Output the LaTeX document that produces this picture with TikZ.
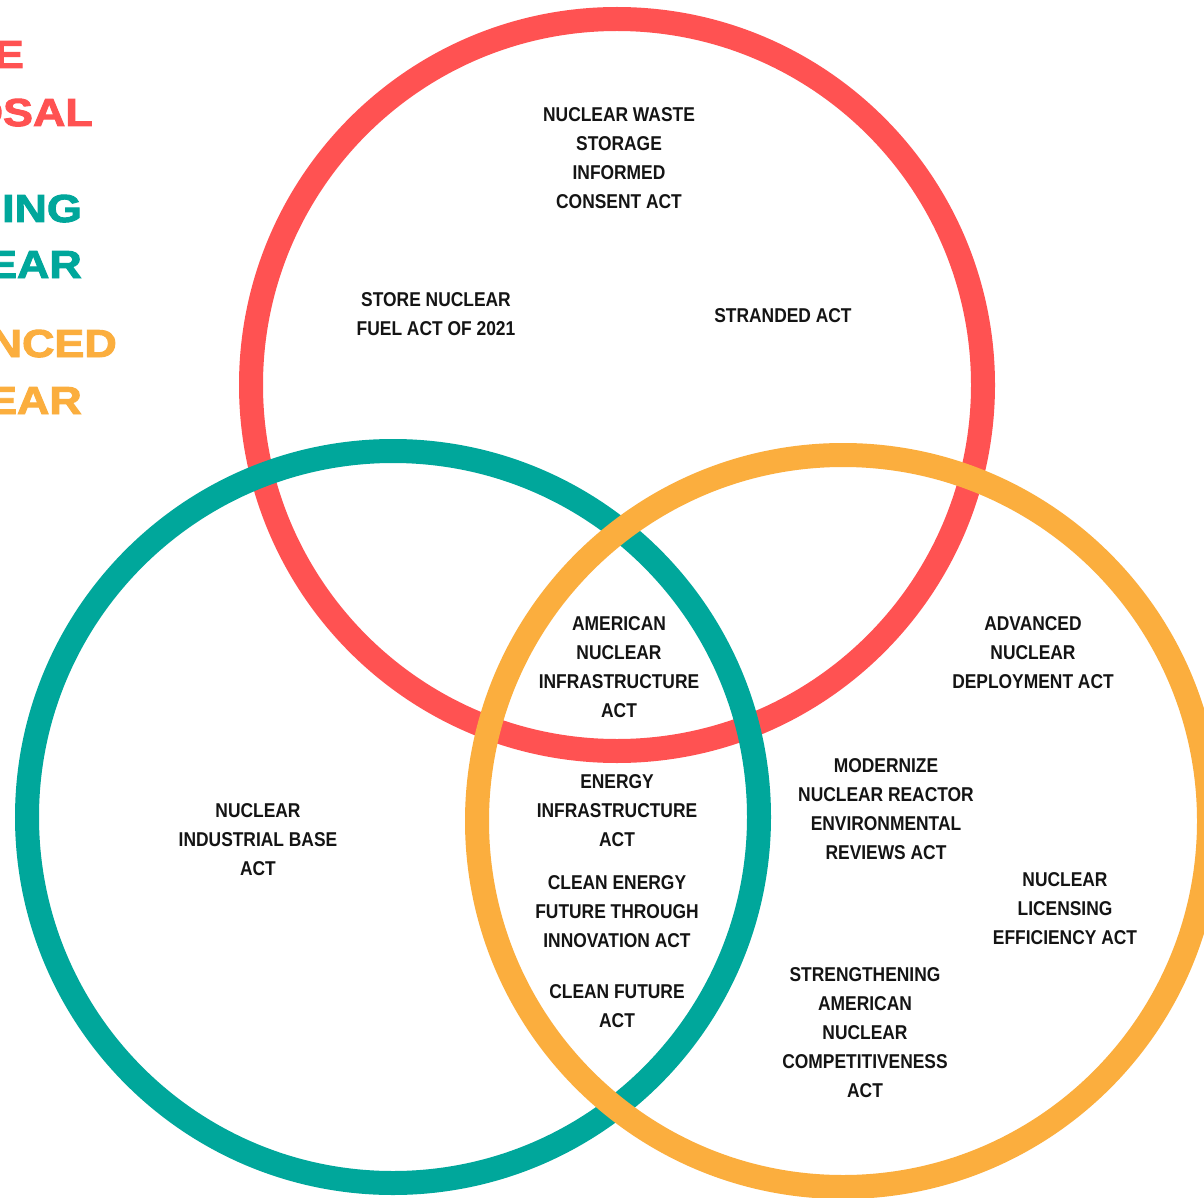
\documentclass[tikz,border=0pt]{standalone}
\usepackage{fontspec}
\setmainfont{Liberation Sans}
\newfontfamily\lab[FakeStretch=0.87]{Liberation Sans}
\newfontfamily\head[FakeBold=2.5,FakeStretch=1.15]{Liberation Sans}
\definecolor{cred}{HTML}{FF5252}
\definecolor{cteal}{HTML}{00A79B}
\definecolor{corange}{HTML}{FBAE3E}
\definecolor{ctext}{HTML}{141414}
\tikzset{
  ring/.style={line width=24pt},
  lbl/.style={align=center, inner sep=0pt, text=ctext, font=\lab\bfseries\fontsize{20}{29}\selectfont},
  hdr/.style={anchor=base east, inner sep=0pt, font=\head\bfseries\fontsize{39}{39}\selectfont}
}
\begin{document}
\begin{tikzpicture}[x=1pt,y=-1pt]
\useasboundingbox (0,0) rectangle (1204,1198);
\fill[white] (0,0) rectangle (1204,1198);
% circles
\draw[ring, cred] (617,385) circle[radius=366pt];
\draw[ring, cteal] (393,817) circle[radius=366pt];
\draw[ring, corange] (843,821) circle[radius=366pt];
% headers (cut by the left edge, as in the reference)
\node[hdr, text=cred] (h1) at (24,68) {E};
\node[hdr, text=cred] (h2) at (93,126) {OSAL};
\node[hdr, text=cteal] (h3) at (82,222) {ING};
\node[hdr, text=cteal] (h4) at (82,278) {EAR};
\node[hdr, text=corange] (h5) at (117,357) {NCED};
\node[hdr, text=corange] (h6) at (82,414) {EAR};
% labels
\node[lbl] (a) at (619,158) {NUCLEAR WASTE\\STORAGE\\INFORMED\\CONSENT ACT};
\node[lbl] (b) at (436,314.5) {STORE NUCLEAR\\FUEL ACT OF 2021};
\node[lbl] (c) at (783,316) {STRANDED ACT};
\node[lbl] (d) at (619,667.5) {AMERICAN\\NUCLEAR\\INFRASTRUCTURE\\ACT};
\node[lbl] (e) at (1033,653) {ADVANCED\\NUCLEAR\\DEPLOYMENT ACT};
\node[lbl] (f) at (258,840) {NUCLEAR\\INDUSTRIAL BASE\\ACT};
\node[lbl] (g) at (617,811) {ENERGY\\INFRASTRUCTURE\\ACT};
\node[lbl] (h) at (886,809) {MODERNIZE\\NUCLEAR REACTOR\\ENVIRONMENTAL\\REVIEWS ACT};
\node[lbl] (i) at (617,912) {CLEAN ENERGY\\FUTURE THROUGH\\INNOVATION ACT};
\node[lbl] (j) at (1065,908.5) {NUCLEAR\\LICENSING\\EFFICIENCY ACT};
\node[lbl] (k) at (617,1006.5) {CLEAN FUTURE\\ACT};
\node[lbl] (l) at (865,1033) {STRENGTHENING\\AMERICAN\\NUCLEAR\\COMPETITIVENESS\\ACT};
\end{tikzpicture}
\end{document}
